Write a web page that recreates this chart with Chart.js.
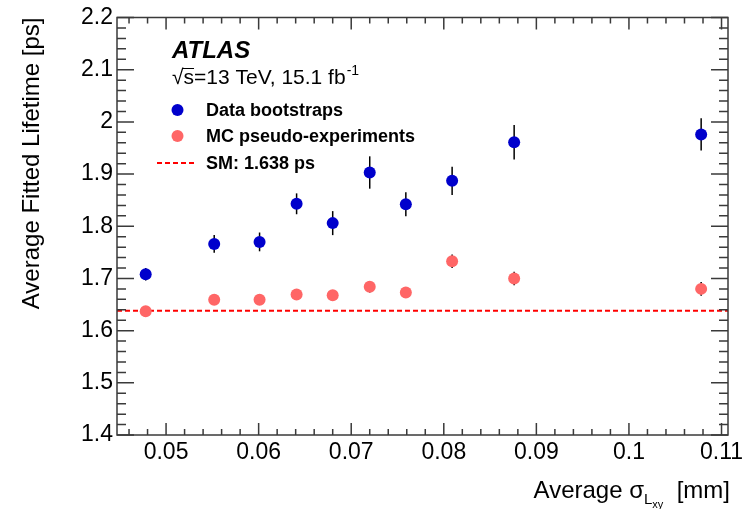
<!DOCTYPE html>
<html>
<head>
<meta charset="utf-8">
<script src="https://cdn.jsdelivr.net/npm/chart.js@4.4.1/dist/chart.umd.min.js"></script>
<style>
  html, body { margin: 0; padding: 0; background: #fff; }
  #wrap { width: 742px; height: 509px; position: relative; }
</style>
</head>
<body>
<div id="wrap"><canvas id="chart"></canvas></div>
<script>
// Average sigma(Lxy) bins [mm]
const sigmaLxy = [0.0478, 0.0552, 0.0601, 0.0641, 0.0680, 0.0720, 0.0759, 0.0809, 0.0876, 0.1078];

// Data bootstraps: average fitted lifetime [ps] and error
const dataLifetime = [1.708, 1.766, 1.770, 1.843, 1.806, 1.903, 1.842, 1.887, 1.961, 1.976];
const dataErr = [0.012, 0.017, 0.018, 0.020, 0.023, 0.031, 0.023, 0.027, 0.033, 0.031];

// MC pseudo-experiments
const mcLifetime = [1.637, 1.659, 1.659, 1.669, 1.668, 1.684, 1.673, 1.733, 1.700, 1.680];
const mcErr = [0.006, 0.007, 0.007, 0.008, 0.008, 0.011, 0.009, 0.013, 0.013, 0.013];

// Standard Model expectation
const smLifetime = 1.638;

// axis ranges
const xRange = [0.0447, 0.1107];
const yRange = [1.4, 2.2];

const FONT = '"Liberation Sans", Arial, Helvetica, sans-serif';
const BLUE = '#0000cc';
const PINK = '#ff6666';

function points(vals) {
    return sigmaLxy.map((x, i) => ({ x: x, y: vals[i] }));
}

function fmt(v) {
    return String(+v.toFixed(4));
}

// error bars drawn behind the markers
const errorBars = {
    id: 'errorBars',
    beforeDatasetsDraw(chart) {
        const { ctx, scales: { x, y } } = chart;
        ctx.save();
        ctx.strokeStyle = '#000';
        ctx.lineWidth = 1.5;
        [[dataLifetime, dataErr], [mcLifetime, mcErr]].forEach(([vals, errs]) => {
            vals.forEach((v, i) => {
                const px = x.getPixelForValue(sigmaLxy[i]);
                ctx.beginPath();
                ctx.moveTo(px, y.getPixelForValue(v - errs[i]));
                ctx.lineTo(px, y.getPixelForValue(v + errs[i]));
                ctx.stroke();
            });
        });
        ctx.restore();
    }
};

// ROOT style frame with inward ticks on all four sides
const frame = {
    id: 'frame',
    afterDraw(chart) {
        const { ctx, chartArea: a, scales: { x, y } } = chart;
        ctx.save();
        ctx.strokeStyle = '#3a3a3a';
        ctx.lineWidth = 1.5;
        ctx.strokeRect(a.left, a.top, a.right - a.left, a.bottom - a.top);
        ctx.beginPath();
        for (let k = Math.ceil(x.min * 500); k <= Math.floor(x.max * 500); k++) {
            const px = x.getPixelForValue(k / 500);
            const len = k % 5 === 0 ? 12 : 6;
            ctx.moveTo(px, a.bottom); ctx.lineTo(px, a.bottom - len);
            ctx.moveTo(px, a.top); ctx.lineTo(px, a.top + len);
        }
        for (let k = Math.ceil(y.min * 50 - 1e-6); k <= Math.floor(y.max * 50 + 1e-6); k++) {
            const py = y.getPixelForValue(k / 50);
            const len = k % 5 === 0 ? 17 : 9;
            ctx.moveTo(a.left, py); ctx.lineTo(a.left + len, py);
            ctx.moveTo(a.right, py); ctx.lineTo(a.right - len, py);
        }
        ctx.stroke();
        ctx.restore();
    }
};

// ATLAS label, legend and x axis title with subscripts
const labels = {
    id: 'labels',
    afterDraw(chart) {
        const { ctx, chartArea: a } = chart;
        ctx.save();
        ctx.fillStyle = '#000';
        ctx.textBaseline = 'alphabetic';

        ctx.font = 'italic bold 24px ' + FONT;
        ctx.fillText('ATLAS', 172, 58);

        ctx.font = '21px ' + FONT;
        let tx = 172;
        ctx.fillText('\u221A', tx, 84);
        tx += ctx.measureText('\u221A').width;
        const sW = ctx.measureText('s').width;
        ctx.beginPath();
        ctx.lineWidth = 1;
        ctx.strokeStyle = '#000';
        ctx.moveTo(tx - 1, 68.5); ctx.lineTo(tx + sW, 68.5);
        ctx.stroke();
        const main = 's=13 TeV, 15.1 fb';
        ctx.fillText(main, tx, 84);
        tx += ctx.measureText(main).width;
        ctx.font = '14px ' + FONT;
        ctx.fillText('-1', tx + 1, 75);

        // legend entries
        const ds = chart.data.datasets;
        ctx.font = 'bold 18px ' + FONT;
        [[ds[0], 110], [ds[1], 136]].forEach(([d, yy]) => {
            ctx.fillStyle = d.backgroundColor;
            ctx.beginPath();
            ctx.arc(177.5, yy, 6, 0, Math.PI * 2);
            ctx.fill();
            ctx.fillStyle = '#000';
            ctx.fillText(d.label, 206, yy + 6);
        });
        ctx.strokeStyle = ds[2].borderColor;
        ctx.lineWidth = 2;
        ctx.setLineDash(ds[2].borderDash);
        ctx.beginPath();
        ctx.moveTo(157, 163); ctx.lineTo(194, 163);
        ctx.stroke();
        ctx.setLineDash([]);
        ctx.fillText(ds[2].label, 206, 169);

        // x axis title: Average sigma_{L_{xy}} [mm], right aligned to frame
        const base = 498;
        const parts = [
            ['Average \u03C3', '24px ', 0],
            ['L', '15px ', 6],
            ['xy', '11px ', 10],
            ['  [mm]', '24px ', 0]
        ];
        let total = 0;
        parts.forEach(p => { ctx.font = p[1] + FONT; total += ctx.measureText(p[0]).width; });
        let px = a.right + 2 - total;
        parts.forEach(p => {
            ctx.font = p[1] + FONT;
            ctx.fillText(p[0], px, base + p[2]);
            px += ctx.measureText(p[0]).width;
        });
        ctx.restore();
    }
};

new Chart(document.getElementById('chart'), {
    type: 'scatter',
    data: {
        datasets: [
            {
                label: 'Data bootstraps',
                data: points(dataLifetime),
                backgroundColor: BLUE,
                borderWidth: 0,
                pointRadius: 6,
                order: 1
            },
            {
                label: 'MC pseudo-experiments',
                data: points(mcLifetime),
                backgroundColor: PINK,
                borderWidth: 0,
                pointRadius: 6,
                order: 2
            },
            {
                label: 'SM: ' + smLifetime + ' ps',
                type: 'line',
                data: [{ x: xRange[0], y: smLifetime }, { x: xRange[1], y: smLifetime }],
                borderColor: '#ff0000',
                borderWidth: 2,
                borderDash: [5, 3],
                pointRadius: 0,
                fill: false,
                order: 3
            }
        ]
    },
    options: {
        responsive: true,
        maintainAspectRatio: false,
        animation: false,
        events: [],
        layout: { padding: { top: 17.5, right: 14, left: 0, bottom: 0 } },
        plugins: {
            legend: { display: false },
            tooltip: { enabled: false }
        },
        scales: {
            x: {
                type: 'linear',
                min: xRange[0],
                max: xRange[1],
                grid: { display: false, drawTicks: false },
                border: { display: false },
                ticks: {
                    stepSize: 0.01,
                    includeBounds: false,
                    autoSkip: false,
                    maxRotation: 0,
                    padding: 4,
                    color: '#000',
                    font: { size: 23, family: FONT },
                    callback: v => fmt(v)
                },
                afterFit: s => { s.height = 74; s.paddingLeft = 0; s.paddingRight = 0; }
            },
            y: {
                type: 'linear',
                min: yRange[0],
                max: yRange[1],
                grid: { display: false, drawTicks: false },
                border: { display: false },
                ticks: {
                    stepSize: 0.1,
                    includeBounds: false,
                    autoSkip: false,
                    padding: 4,
                    color: '#000',
                    font: { size: 23, family: FONT },
                    callback: v => fmt(v)
                },
                title: {
                    display: true,
                    text: 'Average Fitted Lifetime [ps]',
                    align: 'end',
                    color: '#000',
                    font: { size: 24, family: FONT },
                    padding: { top: 18, bottom: 0 }
                },
                afterFit: s => { s.width = 117; s.paddingTop = 0; s.paddingBottom = 0; }
            }
        }
    },
    plugins: [errorBars, frame, labels]
});
</script>
</body>
</html>
